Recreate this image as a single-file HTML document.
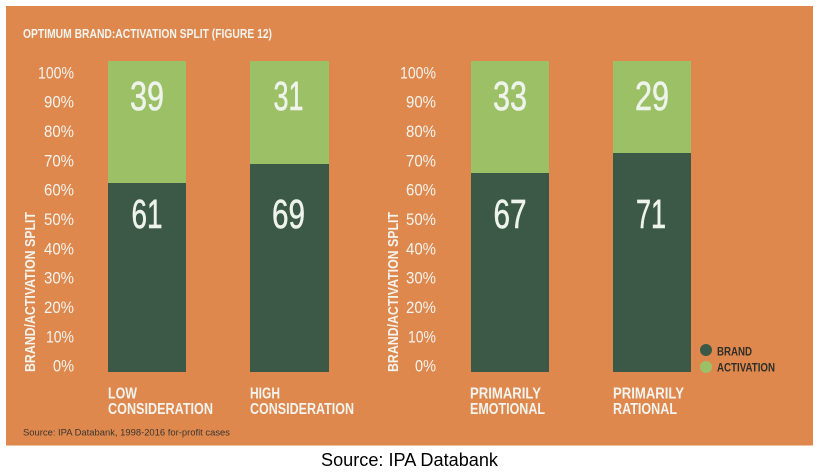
<!DOCTYPE html>
<html>
<head>
<meta charset="utf-8">
<style>
  html, body { margin:0; padding:0; background:#ffffff; }
  body { width:818px; height:474px; overflow:hidden; }
  svg { display:block; }
  .w { fill:#F1F4EF; font-family:"Liberation Sans Narrow","Liberation Sans",sans-serif; font-weight:bold; }
  .t { fill:#F1F4EF; font-family:"Liberation Sans Narrow","Liberation Sans",sans-serif; }
  .num { fill:#EEF3EC; stroke:#EEF3EC; stroke-width:0.6; font-family:"Liberation Sans Narrow","Liberation Sans",sans-serif; font-size:41px; text-anchor:middle; }
</style>
</head>
<body>
<svg width="818" height="474" viewBox="0 0 818 474" xmlns="http://www.w3.org/2000/svg">
  <rect x="6" y="6" width="807" height="439.5" fill="#DF884D"/>

  <!-- Title -->
  <text class="w" x="23" y="38" font-size="12.5" textLength="249" lengthAdjust="spacingAndGlyphs">OPTIMUM BRAND:ACTIVATION SPLIT (FIGURE 12)</text>

  <!-- Y axis titles -->
  <text class="w" font-size="15" transform="translate(35,372) rotate(-90)" textLength="160" lengthAdjust="spacingAndGlyphs">BRAND/ACTIVATION SPLIT</text>
  <text class="w" font-size="15" transform="translate(398,372) rotate(-90)" textLength="160" lengthAdjust="spacingAndGlyphs">BRAND/ACTIVATION SPLIT</text>

  <!-- Left tick labels -->
  <g class="t" font-size="17" text-anchor="end">
    <text x="74" y="78.3" textLength="36" lengthAdjust="spacingAndGlyphs">100%</text>
    <text x="74" y="107.6" textLength="30" lengthAdjust="spacingAndGlyphs">90%</text>
    <text x="74" y="137" textLength="30" lengthAdjust="spacingAndGlyphs">80%</text>
    <text x="74" y="166.3" textLength="30" lengthAdjust="spacingAndGlyphs">70%</text>
    <text x="74" y="195.6" textLength="30" lengthAdjust="spacingAndGlyphs">60%</text>
    <text x="74" y="225" textLength="30" lengthAdjust="spacingAndGlyphs">50%</text>
    <text x="74" y="254.3" textLength="30" lengthAdjust="spacingAndGlyphs">40%</text>
    <text x="74" y="283.6" textLength="30" lengthAdjust="spacingAndGlyphs">30%</text>
    <text x="74" y="313" textLength="30" lengthAdjust="spacingAndGlyphs">20%</text>
    <text x="74" y="342.3" textLength="28" lengthAdjust="spacingAndGlyphs">10%</text>
    <text x="74" y="371.6" textLength="21" lengthAdjust="spacingAndGlyphs">0%</text>
  </g>
  <!-- Right tick labels -->
  <g class="t" font-size="17" text-anchor="end">
    <text x="436" y="78.3" textLength="36" lengthAdjust="spacingAndGlyphs">100%</text>
    <text x="436" y="107.6" textLength="30" lengthAdjust="spacingAndGlyphs">90%</text>
    <text x="436" y="137" textLength="30" lengthAdjust="spacingAndGlyphs">80%</text>
    <text x="436" y="166.3" textLength="30" lengthAdjust="spacingAndGlyphs">70%</text>
    <text x="436" y="195.6" textLength="30" lengthAdjust="spacingAndGlyphs">60%</text>
    <text x="436" y="225" textLength="30" lengthAdjust="spacingAndGlyphs">50%</text>
    <text x="436" y="254.3" textLength="30" lengthAdjust="spacingAndGlyphs">40%</text>
    <text x="436" y="283.6" textLength="30" lengthAdjust="spacingAndGlyphs">30%</text>
    <text x="436" y="313" textLength="30" lengthAdjust="spacingAndGlyphs">20%</text>
    <text x="436" y="342.3" textLength="28" lengthAdjust="spacingAndGlyphs">10%</text>
    <text x="436" y="371.6" textLength="21" lengthAdjust="spacingAndGlyphs">0%</text>
  </g>

  <!-- Bars -->
  <g>
    <rect x="108" y="61" width="78" height="122" fill="#9BC066"/>
    <rect x="108" y="183" width="78" height="189" fill="#3C5948"/>

    <rect x="250" y="61" width="79" height="103" fill="#9BC066"/>
    <rect x="250" y="164" width="79" height="208" fill="#3C5948"/>

    <rect x="471" y="61" width="78" height="112" fill="#9BC066"/>
    <rect x="471" y="173" width="78" height="199" fill="#3C5948"/>

    <rect x="613" y="61" width="78" height="92" fill="#9BC066"/>
    <rect x="613" y="153" width="78" height="219" fill="#3C5948"/>
  </g>

  <!-- Bar values -->
  <text class="num" x="147" y="110" textLength="34" lengthAdjust="spacingAndGlyphs">39</text>
  <text class="num" x="147" y="228" textLength="31" lengthAdjust="spacingAndGlyphs">61</text>
  <text class="num" x="288.5" y="110" textLength="30" lengthAdjust="spacingAndGlyphs">31</text>
  <text class="num" x="288.5" y="228" textLength="33" lengthAdjust="spacingAndGlyphs">69</text>
  <text class="num" x="510" y="110" textLength="34" lengthAdjust="spacingAndGlyphs">33</text>
  <text class="num" x="510" y="228" textLength="33" lengthAdjust="spacingAndGlyphs">67</text>
  <text class="num" x="652" y="110" textLength="34" lengthAdjust="spacingAndGlyphs">29</text>
  <text class="num" x="651" y="228" textLength="30" lengthAdjust="spacingAndGlyphs">71</text>

  <!-- Category labels -->
  <g class="w" font-size="16">
    <text x="108" y="398.3" textLength="29" lengthAdjust="spacingAndGlyphs">LOW</text>
    <text x="108" y="414" textLength="105" lengthAdjust="spacingAndGlyphs">CONSIDERATION</text>
    <text x="250" y="398.3" textLength="30" lengthAdjust="spacingAndGlyphs">HIGH</text>
    <text x="250" y="414" textLength="104" lengthAdjust="spacingAndGlyphs">CONSIDERATION</text>
    <text x="470" y="398.3" textLength="71" lengthAdjust="spacingAndGlyphs">PRIMARILY</text>
    <text x="470" y="414" textLength="75" lengthAdjust="spacingAndGlyphs">EMOTIONAL</text>
    <text x="613" y="398.3" textLength="71" lengthAdjust="spacingAndGlyphs">PRIMARILY</text>
    <text x="613" y="414" textLength="64" lengthAdjust="spacingAndGlyphs">RATIONAL</text>
  </g>

  <!-- Legend -->
  <circle cx="706" cy="350" r="6" fill="#3C5948"/>
  <circle cx="706" cy="367" r="6" fill="#9BC066"/>
  <g font-family="'Liberation Sans Narrow','Liberation Sans',sans-serif" font-weight="bold" font-size="12" fill="#2E2E2A">
    <text x="717" y="355.5" textLength="35" lengthAdjust="spacingAndGlyphs">BRAND</text>
    <text x="717" y="371.5" textLength="58" lengthAdjust="spacingAndGlyphs">ACTIVATION</text>
  </g>

  <!-- Source inside panel -->
  <text x="23" y="435.5" font-family="'Liberation Sans',sans-serif" font-size="9" fill="#3A3530" textLength="207" lengthAdjust="spacingAndGlyphs">Source: IPA Databank, 1998-2016 for-profit cases</text>

  <!-- Bottom caption -->
  <text x="321" y="466" font-family="'Liberation Sans',sans-serif" font-size="18" fill="#000000" textLength="177" lengthAdjust="spacingAndGlyphs">Source: IPA Databank</text>
</svg>
</body>
</html>
